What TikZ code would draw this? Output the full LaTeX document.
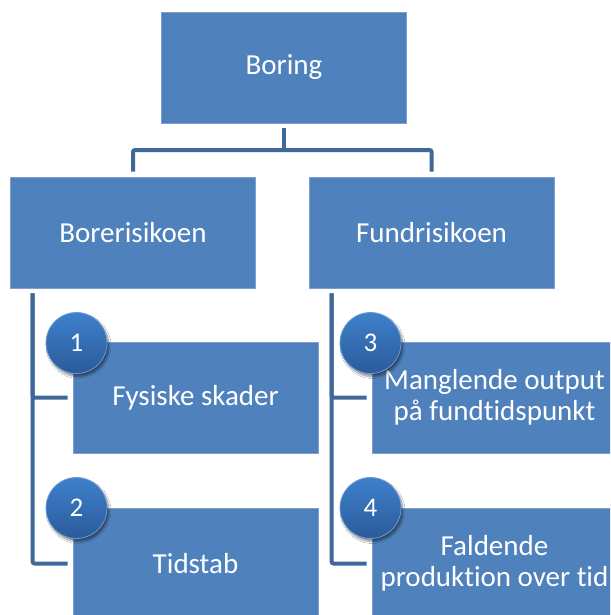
\documentclass[tikz,border=0pt]{standalone}
\usepackage{fontspec}
\setmainfont{Carlito}[Ligatures=NoCommon]
\usetikzlibrary{shadows.blur}
\definecolor{boxblue}{HTML}{4F81BD}
\definecolor{boxedge}{HTML}{7CA1CF}
\definecolor{linkblue}{HTML}{3F6899}
\definecolor{badgetop}{HTML}{3E80CC}
\definecolor{badgebot}{HTML}{2B5B9A}
\definecolor{badgeedge}{HTML}{6C9AD2}
\tikzset{
  card/.style={rectangle, fill=boxblue, draw=boxedge, line width=0.8pt,
    minimum width=245pt, minimum height=111pt, inner sep=0pt,
    text=white, font=\fontsize{29}{31}\selectfont, align=center},
  link/.style={draw=linkblue, line width=4pt, rounded corners=2pt},
  badge/.style={circle, minimum size=61pt, inner sep=0pt,
    top color=badgetop, bottom color=badgebot, draw=badgeedge, line width=0.8pt,
    text=white, font=\fontsize{27}{29}\selectfont,
    blur shadow={shadow xshift=2pt, shadow yshift=-3pt, shadow blur steps=8, shadow opacity=45}}
}
\begin{document}
\begin{tikzpicture}[x=1pt,y=-1pt]
  \clip (0,0) rectangle (610,615);
  \fill[white] (0,0) rectangle (610,615);

  % top level
  \node[card] (boring) at (284,67.5) {Boring};
  \node[card] (borer) at (133,232.5) {Borerisikoen};
  \node[card] (fund) at (431.5,232.5) {Fundrisikoen};

  % risk items
  \node[card] (fys)  at (195.5,397.5) {Fysiske skader};
  \node[card] (tid)  at (195.5,563.5) {Tidstab};
  \node[card] (mang) at (494.5,397.5) {Manglende output\\på fundtidspunkt};
  \node[card] (fald) at (494.5,563.5) {Faldende\\produktion over tid};

  % tree from the root to the two groups
  \coordinate (bar) at (284,150);
  \draw[link, shorten <=5pt] (boring.south) -- (bar);
  \draw[link, shorten >=5pt] (bar) -| (borer.north);
  \draw[link, shorten >=5pt] (bar) -| (fund.north);

  % bracket lines from each group to its items
  \coordinate (lstem) at ([shift={(22.5,5)}]borer.south west);
  \coordinate (rstem) at ([shift={(23,5)}]fund.south west);
  \draw[link, shorten >=5pt] (lstem) |- (fys.west);
  \draw[link, shorten >=5pt] (lstem) |- (tid.west);
  \draw[link, shorten >=5pt] (rstem) |- (mang.west);
  \draw[link, shorten >=5pt] (rstem) |- (fald.west);

  % numbered badges
  \node[badge] (n1) at (76.5,343) {1};
  \node[badge] (n2) at (76.5,508) {2};
  \node[badge] (n3) at (370.5,343) {3};
  \node[badge] (n4) at (370.5,508) {4};
\end{tikzpicture}
\end{document}
